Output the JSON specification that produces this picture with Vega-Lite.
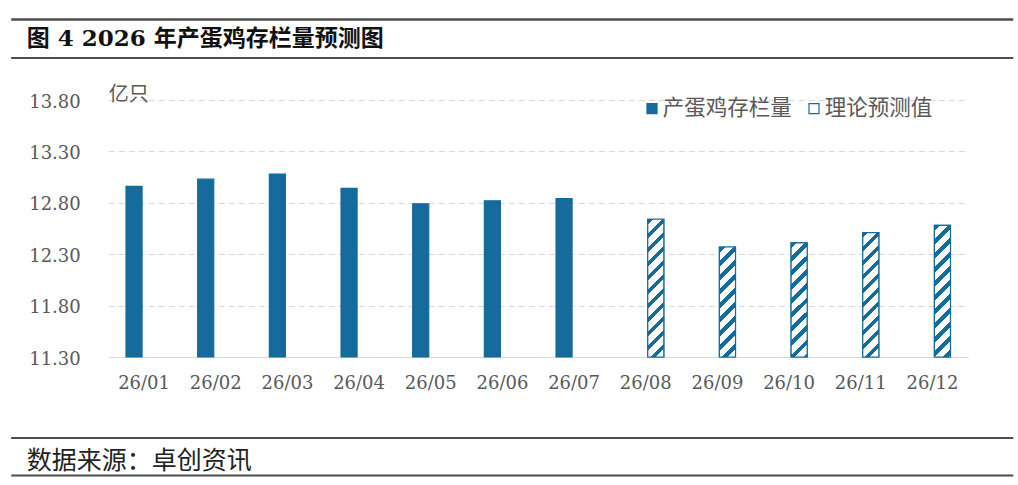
{
  "$schema": "https://vega.github.io/schema/vega-lite/v6.json",
  "description": "2026年产蛋鸡存栏量预测图",
  "background": "white",
  "padding": {"left": 26.25, "top": 18, "right": 3, "bottom": 5},
  "spacing": 25,
  "vconcat": [
    {
      "width": 860,
      "height": 38.5,
      "data": {"values": [{"title": "图 4 2026 年产蛋鸡存栏量预测图"}]},
      "encoding": {
        "y": {"datum": 0.47, "type": "quantitative", "scale": {"domain": [0, 1]}, "axis": null}
      },
      "layer": [
        {
          "mark": {"type": "text", "align": "left", "baseline": "middle", "font": "DejaVu Serif, Noto Sans CJK SC", "fontWeight": "bold", "fontSize": 23, "color": "#111111"},
          "encoding": {
            "text": {"field": "title"},
            "x": {
              "datum": 16, "type": "quantitative",
              "scale": {"domain": [0, 1002], "range": [-97.5, 904.5], "nice": false, "zero": false},
              "axis": {"orient": "top", "domain": true, "domainColor": "#4d4d4d", "domainWidth": 2.5, "labels": false, "ticks": false, "grid": false, "title": null}
            }
          }
        },
        {
          "mark": {"type": "text", "align": "left", "opacity": 0},
          "encoding": {
            "text": {"value": ""},
            "x": {
              "datum": 16, "type": "quantitative",
              "scale": {"domain": [0, 1002], "range": [-97.5, 904.5], "nice": false, "zero": false},
              "axis": {"orient": "bottom", "domain": true, "domainColor": "#4d4d4d", "domainWidth": 2, "labels": false, "ticks": false, "grid": false, "title": null}
            }
          }
        }
      ],
      "resolve": {"scale": {"x": "independent"}}
    },
    {
      "width": 860,
      "height": 257,
      "data": {
        "values": [
          {"month": "26/01", "value": 12.96, "type": "产蛋鸡存栏量"},
          {"month": "26/02", "value": 13.03, "type": "产蛋鸡存栏量"},
          {"month": "26/03", "value": 13.08, "type": "产蛋鸡存栏量"},
          {"month": "26/04", "value": 12.94, "type": "产蛋鸡存栏量"},
          {"month": "26/05", "value": 12.79, "type": "产蛋鸡存栏量"},
          {"month": "26/06", "value": 12.82, "type": "产蛋鸡存栏量"},
          {"month": "26/07", "value": 12.84, "type": "产蛋鸡存栏量"},
          {"month": "26/08", "value": 12.64, "type": "理论预测值"},
          {"month": "26/09", "value": 12.37, "type": "理论预测值"},
          {"month": "26/10", "value": 12.41, "type": "理论预测值"},
          {"month": "26/11", "value": 12.51, "type": "理论预测值"},
          {"month": "26/12", "value": 12.58, "type": "理论预测值"}
        ]
      },
      "encoding": {
        "x": {
          "field": "month", "type": "nominal", "sort": null,
          "scale": {"paddingInner": 0.44, "paddingOuter": 0.22},
          "axis": {
            "title": null, "labelAngle": 0, "ticks": false, "tickSize": 0, "domain": false,
            "labelFont": "DejaVu Serif", "labelFontSize": 18, "labelColor": "#595959",
            "labelBaseline": "middle", "labelPadding": 26
          }
        },
        "xOffset": {
          "field": "type", "type": "nominal",
          "scale": {"domain": ["产蛋鸡存栏量", "理论预测值"], "paddingInner": 0.2, "paddingOuter": 0.1}
        },
        "y": {
          "field": "value", "type": "quantitative",
          "scale": {"domain": [11.3, 13.8], "zero": false, "nice": false},
          "axis": {
            "values": [11.3, 11.8, 12.3, 12.8, 13.3, 13.8], "format": ".2f",
            "ticks": false, "tickSize": 0, "domain": false,
            "labelFont": "DejaVu Serif", "labelFontSize": 18, "labelColor": "#595959",
            "labelPadding": 28, "labelBaseline": "middle", "labelOffset": 2,
            "gridColor": "#d9d9d9", "gridWidth": 1,
            "gridDash": {"condition": {"test": "datum.value === 11.3", "value": []}, "value": [6, 4]},
            "title": "亿只", "titleAngle": 0, "titleAlign": "left", "titleBaseline": "alphabetic",
            "titleX": 0, "titleY": 0, "titleFont": "Noto Sans CJK SC", "titleFontSize": 20,
            "titleFontWeight": "normal", "titleColor": "#595959"
          }
        },
        "y2": {"datum": 11.3}
      },
      "layer": [
        {
          "mark": {"type": "bar", "stroke": "#156b9c", "strokeWidth": 1.2},
          "encoding": {
            "color": {
              "field": "type", "type": "nominal",
              "scale": {"domain": ["产蛋鸡存栏量", "理论预测值"], "range": ["#156b9c", "#ffffff"]},
              "legend": {
                "orient": "none", "legendX": 533, "legendY": 78.4, "direction": "horizontal",
                "title": null, "padding": 0, "symbolType": "square", "symbolSize": 100,
                "symbolStrokeColor": "#156b9c", "symbolStrokeWidth": 1,
                "labelFont": "Noto Sans CJK SC", "labelFontSize": 21.5, "labelColor": "#595959",
                "labelOffset": 0, "columnPadding": 11, "labelLimit": 300,
                "encode": {
                  "symbols": {
                    "update": {
                      "stroke": {"value": "#156b9c"},
                      "strokeWidth": {"value": 1.2},
                      "fill": {"signal": "datum.value === '理论预测值' ? {gradient: 'linear', x1: 0, y1: 0, x2: 1, y2: 1, stops: [{offset: 0, color: '#ffffff'}, {offset: 0.3, color: '#ffffff'}, {offset: 0.3, color: '#156b9c'}, {offset: 0.7, color: '#156b9c'}, {offset: 0.7, color: '#ffffff'}, {offset: 1, color: '#ffffff'}]} : '#156b9c'"}
                    }
                  }
                }
              }
            }
          }
        },
        {
          "transform": [{"filter": "datum.type === '理论预测值'"}],
          "mark": {"type": "bar", "stroke": "#156b9c", "strokeWidth": 1.2},
          "encoding": {
            "fill": {
              "condition": [
                {"test": "datum.month === '26/08'", "value": {"gradient": "linear", "x1": 0, "y1": 0, "x2": 0.1401, "y2": 1.2033, "stops": [
                  {"offset": 0, "color": "#156b9c"}, {"offset": 0.0333, "color": "#156b9c"}, {"offset": 0.0333, "color": "#ffffff"}, {"offset": 0.0833, "color": "#ffffff"},
                  {"offset": 0.0833, "color": "#156b9c"}, {"offset": 0.1167, "color": "#156b9c"}, {"offset": 0.1167, "color": "#ffffff"}, {"offset": 0.1667, "color": "#ffffff"},
                  {"offset": 0.1667, "color": "#156b9c"}, {"offset": 0.2, "color": "#156b9c"}, {"offset": 0.2, "color": "#ffffff"}, {"offset": 0.25, "color": "#ffffff"},
                  {"offset": 0.25, "color": "#156b9c"}, {"offset": 0.2833, "color": "#156b9c"}, {"offset": 0.2833, "color": "#ffffff"}, {"offset": 0.3333, "color": "#ffffff"},
                  {"offset": 0.3333, "color": "#156b9c"}, {"offset": 0.3667, "color": "#156b9c"}, {"offset": 0.3667, "color": "#ffffff"}, {"offset": 0.4167, "color": "#ffffff"},
                  {"offset": 0.4167, "color": "#156b9c"}, {"offset": 0.45, "color": "#156b9c"}, {"offset": 0.45, "color": "#ffffff"}, {"offset": 0.5, "color": "#ffffff"},
                  {"offset": 0.5, "color": "#156b9c"}, {"offset": 0.5333, "color": "#156b9c"}, {"offset": 0.5333, "color": "#ffffff"}, {"offset": 0.5833, "color": "#ffffff"},
                  {"offset": 0.5833, "color": "#156b9c"}, {"offset": 0.6167, "color": "#156b9c"}, {"offset": 0.6167, "color": "#ffffff"}, {"offset": 0.6667, "color": "#ffffff"},
                  {"offset": 0.6667, "color": "#156b9c"}, {"offset": 0.7, "color": "#156b9c"}, {"offset": 0.7, "color": "#ffffff"}, {"offset": 0.75, "color": "#ffffff"},
                  {"offset": 0.75, "color": "#156b9c"}, {"offset": 0.7833, "color": "#156b9c"}, {"offset": 0.7833, "color": "#ffffff"}, {"offset": 0.8333, "color": "#ffffff"},
                  {"offset": 0.8333, "color": "#156b9c"}, {"offset": 0.8667, "color": "#156b9c"}, {"offset": 0.8667, "color": "#ffffff"}, {"offset": 0.9167, "color": "#ffffff"},
                  {"offset": 0.9167, "color": "#156b9c"}, {"offset": 0.95, "color": "#156b9c"}, {"offset": 0.95, "color": "#ffffff"}, {"offset": 1, "color": "#ffffff"}]}},
                {"test": "datum.month === '26/09'", "value": {"gradient": "linear", "x1": 0, "y1": 0, "x2": 0.2181, "y2": 1.4955, "stops": [
                  {"offset": 0, "color": "#156b9c"}, {"offset": 0.0333, "color": "#156b9c"}, {"offset": 0.0333, "color": "#ffffff"}, {"offset": 0.0833, "color": "#ffffff"},
                  {"offset": 0.0833, "color": "#156b9c"}, {"offset": 0.1167, "color": "#156b9c"}, {"offset": 0.1167, "color": "#ffffff"}, {"offset": 0.1667, "color": "#ffffff"},
                  {"offset": 0.1667, "color": "#156b9c"}, {"offset": 0.2, "color": "#156b9c"}, {"offset": 0.2, "color": "#ffffff"}, {"offset": 0.25, "color": "#ffffff"},
                  {"offset": 0.25, "color": "#156b9c"}, {"offset": 0.2833, "color": "#156b9c"}, {"offset": 0.2833, "color": "#ffffff"}, {"offset": 0.3333, "color": "#ffffff"},
                  {"offset": 0.3333, "color": "#156b9c"}, {"offset": 0.3667, "color": "#156b9c"}, {"offset": 0.3667, "color": "#ffffff"}, {"offset": 0.4167, "color": "#ffffff"},
                  {"offset": 0.4167, "color": "#156b9c"}, {"offset": 0.45, "color": "#156b9c"}, {"offset": 0.45, "color": "#ffffff"}, {"offset": 0.5, "color": "#ffffff"},
                  {"offset": 0.5, "color": "#156b9c"}, {"offset": 0.5333, "color": "#156b9c"}, {"offset": 0.5333, "color": "#ffffff"}, {"offset": 0.5833, "color": "#ffffff"},
                  {"offset": 0.5833, "color": "#156b9c"}, {"offset": 0.6167, "color": "#156b9c"}, {"offset": 0.6167, "color": "#ffffff"}, {"offset": 0.6667, "color": "#ffffff"},
                  {"offset": 0.6667, "color": "#156b9c"}, {"offset": 0.7, "color": "#156b9c"}, {"offset": 0.7, "color": "#ffffff"}, {"offset": 0.75, "color": "#ffffff"},
                  {"offset": 0.75, "color": "#156b9c"}, {"offset": 0.7833, "color": "#156b9c"}, {"offset": 0.7833, "color": "#ffffff"}, {"offset": 0.8333, "color": "#ffffff"},
                  {"offset": 0.8333, "color": "#156b9c"}, {"offset": 0.8667, "color": "#156b9c"}, {"offset": 0.8667, "color": "#ffffff"}, {"offset": 0.9167, "color": "#ffffff"},
                  {"offset": 0.9167, "color": "#156b9c"}, {"offset": 0.95, "color": "#156b9c"}, {"offset": 0.95, "color": "#ffffff"}, {"offset": 1, "color": "#ffffff"}]}},
                {"test": "datum.month === '26/10'", "value": {"gradient": "linear", "x1": 0, "y1": 0, "x2": 0.2030, "y2": 1.4439, "stops": [
                  {"offset": 0, "color": "#156b9c"}, {"offset": 0.0333, "color": "#156b9c"}, {"offset": 0.0333, "color": "#ffffff"}, {"offset": 0.0833, "color": "#ffffff"},
                  {"offset": 0.0833, "color": "#156b9c"}, {"offset": 0.1167, "color": "#156b9c"}, {"offset": 0.1167, "color": "#ffffff"}, {"offset": 0.1667, "color": "#ffffff"},
                  {"offset": 0.1667, "color": "#156b9c"}, {"offset": 0.2, "color": "#156b9c"}, {"offset": 0.2, "color": "#ffffff"}, {"offset": 0.25, "color": "#ffffff"},
                  {"offset": 0.25, "color": "#156b9c"}, {"offset": 0.2833, "color": "#156b9c"}, {"offset": 0.2833, "color": "#ffffff"}, {"offset": 0.3333, "color": "#ffffff"},
                  {"offset": 0.3333, "color": "#156b9c"}, {"offset": 0.3667, "color": "#156b9c"}, {"offset": 0.3667, "color": "#ffffff"}, {"offset": 0.4167, "color": "#ffffff"},
                  {"offset": 0.4167, "color": "#156b9c"}, {"offset": 0.45, "color": "#156b9c"}, {"offset": 0.45, "color": "#ffffff"}, {"offset": 0.5, "color": "#ffffff"},
                  {"offset": 0.5, "color": "#156b9c"}, {"offset": 0.5333, "color": "#156b9c"}, {"offset": 0.5333, "color": "#ffffff"}, {"offset": 0.5833, "color": "#ffffff"},
                  {"offset": 0.5833, "color": "#156b9c"}, {"offset": 0.6167, "color": "#156b9c"}, {"offset": 0.6167, "color": "#ffffff"}, {"offset": 0.6667, "color": "#ffffff"},
                  {"offset": 0.6667, "color": "#156b9c"}, {"offset": 0.7, "color": "#156b9c"}, {"offset": 0.7, "color": "#ffffff"}, {"offset": 0.75, "color": "#ffffff"},
                  {"offset": 0.75, "color": "#156b9c"}, {"offset": 0.7833, "color": "#156b9c"}, {"offset": 0.7833, "color": "#ffffff"}, {"offset": 0.8333, "color": "#ffffff"},
                  {"offset": 0.8333, "color": "#156b9c"}, {"offset": 0.8667, "color": "#156b9c"}, {"offset": 0.8667, "color": "#ffffff"}, {"offset": 0.9167, "color": "#ffffff"},
                  {"offset": 0.9167, "color": "#156b9c"}, {"offset": 0.95, "color": "#156b9c"}, {"offset": 0.95, "color": "#ffffff"}, {"offset": 1, "color": "#ffffff"}]}},
                {"test": "datum.month === '26/11'", "value": {"gradient": "linear", "x1": 0, "y1": 0, "x2": 0.1713, "y2": 1.3284, "stops": [
                  {"offset": 0, "color": "#156b9c"}, {"offset": 0.0333, "color": "#156b9c"}, {"offset": 0.0333, "color": "#ffffff"}, {"offset": 0.0833, "color": "#ffffff"},
                  {"offset": 0.0833, "color": "#156b9c"}, {"offset": 0.1167, "color": "#156b9c"}, {"offset": 0.1167, "color": "#ffffff"}, {"offset": 0.1667, "color": "#ffffff"},
                  {"offset": 0.1667, "color": "#156b9c"}, {"offset": 0.2, "color": "#156b9c"}, {"offset": 0.2, "color": "#ffffff"}, {"offset": 0.25, "color": "#ffffff"},
                  {"offset": 0.25, "color": "#156b9c"}, {"offset": 0.2833, "color": "#156b9c"}, {"offset": 0.2833, "color": "#ffffff"}, {"offset": 0.3333, "color": "#ffffff"},
                  {"offset": 0.3333, "color": "#156b9c"}, {"offset": 0.3667, "color": "#156b9c"}, {"offset": 0.3667, "color": "#ffffff"}, {"offset": 0.4167, "color": "#ffffff"},
                  {"offset": 0.4167, "color": "#156b9c"}, {"offset": 0.45, "color": "#156b9c"}, {"offset": 0.45, "color": "#ffffff"}, {"offset": 0.5, "color": "#ffffff"},
                  {"offset": 0.5, "color": "#156b9c"}, {"offset": 0.5333, "color": "#156b9c"}, {"offset": 0.5333, "color": "#ffffff"}, {"offset": 0.5833, "color": "#ffffff"},
                  {"offset": 0.5833, "color": "#156b9c"}, {"offset": 0.6167, "color": "#156b9c"}, {"offset": 0.6167, "color": "#ffffff"}, {"offset": 0.6667, "color": "#ffffff"},
                  {"offset": 0.6667, "color": "#156b9c"}, {"offset": 0.7, "color": "#156b9c"}, {"offset": 0.7, "color": "#ffffff"}, {"offset": 0.75, "color": "#ffffff"},
                  {"offset": 0.75, "color": "#156b9c"}, {"offset": 0.7833, "color": "#156b9c"}, {"offset": 0.7833, "color": "#ffffff"}, {"offset": 0.8333, "color": "#ffffff"},
                  {"offset": 0.8333, "color": "#156b9c"}, {"offset": 0.8667, "color": "#156b9c"}, {"offset": 0.8667, "color": "#ffffff"}, {"offset": 0.9167, "color": "#ffffff"},
                  {"offset": 0.9167, "color": "#156b9c"}, {"offset": 0.95, "color": "#156b9c"}, {"offset": 0.95, "color": "#ffffff"}, {"offset": 1, "color": "#ffffff"}]}},
                {"test": "datum.month === '26/12'", "value": {"gradient": "linear", "x1": 0, "y1": 0, "x2": 0.1533, "y2": 1.2579, "stops": [
                  {"offset": 0, "color": "#156b9c"}, {"offset": 0.0333, "color": "#156b9c"}, {"offset": 0.0333, "color": "#ffffff"}, {"offset": 0.0833, "color": "#ffffff"},
                  {"offset": 0.0833, "color": "#156b9c"}, {"offset": 0.1167, "color": "#156b9c"}, {"offset": 0.1167, "color": "#ffffff"}, {"offset": 0.1667, "color": "#ffffff"},
                  {"offset": 0.1667, "color": "#156b9c"}, {"offset": 0.2, "color": "#156b9c"}, {"offset": 0.2, "color": "#ffffff"}, {"offset": 0.25, "color": "#ffffff"},
                  {"offset": 0.25, "color": "#156b9c"}, {"offset": 0.2833, "color": "#156b9c"}, {"offset": 0.2833, "color": "#ffffff"}, {"offset": 0.3333, "color": "#ffffff"},
                  {"offset": 0.3333, "color": "#156b9c"}, {"offset": 0.3667, "color": "#156b9c"}, {"offset": 0.3667, "color": "#ffffff"}, {"offset": 0.4167, "color": "#ffffff"},
                  {"offset": 0.4167, "color": "#156b9c"}, {"offset": 0.45, "color": "#156b9c"}, {"offset": 0.45, "color": "#ffffff"}, {"offset": 0.5, "color": "#ffffff"},
                  {"offset": 0.5, "color": "#156b9c"}, {"offset": 0.5333, "color": "#156b9c"}, {"offset": 0.5333, "color": "#ffffff"}, {"offset": 0.5833, "color": "#ffffff"},
                  {"offset": 0.5833, "color": "#156b9c"}, {"offset": 0.6167, "color": "#156b9c"}, {"offset": 0.6167, "color": "#ffffff"}, {"offset": 0.6667, "color": "#ffffff"},
                  {"offset": 0.6667, "color": "#156b9c"}, {"offset": 0.7, "color": "#156b9c"}, {"offset": 0.7, "color": "#ffffff"}, {"offset": 0.75, "color": "#ffffff"},
                  {"offset": 0.75, "color": "#156b9c"}, {"offset": 0.7833, "color": "#156b9c"}, {"offset": 0.7833, "color": "#ffffff"}, {"offset": 0.8333, "color": "#ffffff"},
                  {"offset": 0.8333, "color": "#156b9c"}, {"offset": 0.8667, "color": "#156b9c"}, {"offset": 0.8667, "color": "#ffffff"}, {"offset": 0.9167, "color": "#ffffff"},
                  {"offset": 0.9167, "color": "#156b9c"}, {"offset": 0.95, "color": "#156b9c"}, {"offset": 0.95, "color": "#ffffff"}, {"offset": 1, "color": "#ffffff"}]}}
              ],
              "value": "#ffffff"
            }
          }
        }
      ]
    },
    {
      "width": 860,
      "height": 56,
      "data": {"values": [{"source": "数据来源：卓创资讯"}]},
      "encoding": {
        "y": {"datum": 14.3, "type": "quantitative", "scale": {"domain": [0, 56]}, "axis": null}
      },
      "layer": [
        {
          "mark": {"type": "text", "align": "left", "baseline": "middle", "font": "Noto Sans CJK SC", "fontSize": 25, "color": "#222222"},
          "encoding": {
            "text": {"field": "source"},
            "x": {
              "datum": 16, "type": "quantitative",
              "scale": {"domain": [0, 1002], "range": [-97.5, 904.5], "nice": false, "zero": false},
              "axis": {"orient": "top", "offset": -18.5, "domain": true, "domainColor": "#4d4d4d", "domainWidth": 2, "labels": false, "ticks": false, "grid": false, "title": null}
            }
          }
        },
        {
          "mark": {"type": "text", "align": "left", "opacity": 0},
          "encoding": {
            "text": {"value": ""},
            "x": {
              "datum": 16, "type": "quantitative",
              "scale": {"domain": [0, 1002], "range": [-97.5, 904.5], "nice": false, "zero": false},
              "axis": {"orient": "bottom", "domain": true, "domainColor": "#4d4d4d", "domainWidth": 2, "labels": false, "ticks": false, "grid": false, "title": null}
            }
          }
        }
      ],
      "resolve": {"scale": {"x": "independent"}}
    }
  ],
  "config": {
    "view": {"stroke": "transparent"}
  }
}
